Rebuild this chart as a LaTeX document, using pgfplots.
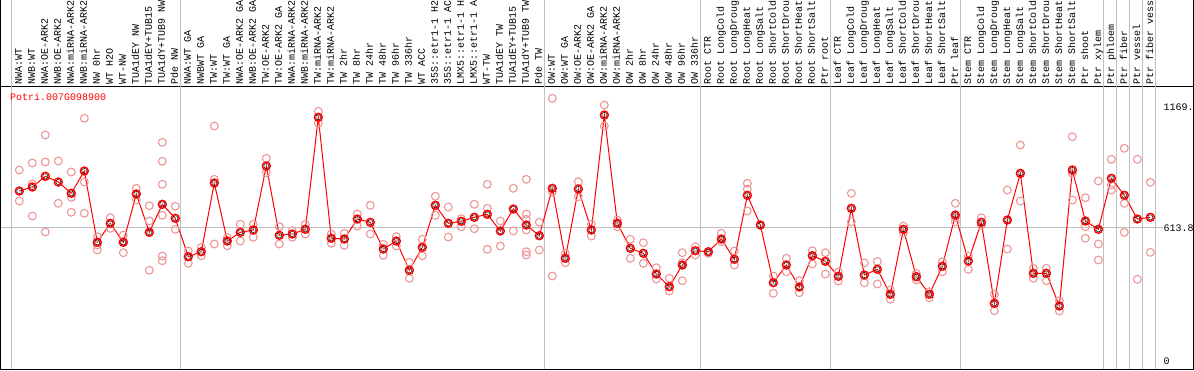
\documentclass[border=0pt]{standalone}
\usepackage{fontspec}
\setmainfont{Liberation Mono}
\usepackage{pgfplots}
\pgfplotsset{compat=1.18}
\definecolor{pinkc}{RGB}{236,150,150}
\definecolor{gridg}{RGB}{192,192,192}
\begin{document}
\fontsize{10pt}{12pt}\selectfont
\begin{tikzpicture}
\begin{axis}[name=ax, scale only axis, width=1192pt, height=283pt,
  xmin=-1.408, xmax=90.28, ymin=-34.4, ymax=1264.3,
  axis line style={black, line width=1pt},
  clip=false,
  ytick=\empty,
  xtick={0,...,87},
  xtick pos=upper, xticklabel pos=upper,
  major tick length=0pt,
  xticklabel style={rotate=90, anchor=mid west, inner sep=0pt, font=\fontsize{10pt}{12pt}\selectfont},
  xticklabel shift=1.5pt,
  xticklabels={NWA:WT,NWB:WT,NWA:OE-ARK2,NWB:OE-ARK2,NWA:miRNA-ARK2,NWB:miRNA-ARK2,NW 0hr,WT H2O,WT-NW,TUA1dEY NW,TUA1dEY+TUB15,TUA1dY+TUB9 NW,Pde NW,
  NWA:WT GA,NWBWT GA,TW:WT,TW:WT GA,NWA:OE-ARK2 GA,NWB:OE-ARK2 GA,TW:OE-ARK2,TW:OE-ARK2 GA,NWA:miRNA-ARK2,NWB:miRNA-ARK2,TW:miRNA-ARK2,TW:miRNA-ARK2,TW 2hr,TW 8hr,TW 24hr,TW 48hr,TW 96hr,TW 336hr,WT ACC,35S::etr1-1 H2,35S::etr1-1 AC,LMX5::etr1-1 H,LMX5::etr1-1 A,WT-TW,TUA1dEY TW,TUA1dEY+TUB15,TUA1dY+TUB9 TW,Pde TW,
  OW:WT,OW:WT GA,OW:OE-ARK2,OW:OE-ARK2 GA,OW:miRNA-ARK2,OW:miRNA-ARK2,OW 2hr,OW 8hr,OW 24hr,OW 48hr,OW 96hr,OW 336hr,
  Root CTR,Root LongCold,Root LongDroug,Root LongHeat,Root LongSalt,Root ShortCold,Root ShortDrou,Root ShortHeat,Root ShortSalt,Ptr root,
  Leaf CTR,Leaf LongCold,Leaf LongDroug,Leaf LongHeat,Leaf LongSalt,Leaf ShortCold,Leaf ShortDrou,Leaf ShortHeat,Leaf ShortSalt,Ptr leaf,
  Stem CTR,Stem LongCold,Stem LongDroug,Stem LongHeat,Stem LongSalt,Stem ShortCold,Stem ShortDrou,Stem ShortHeat,Stem ShortSalt,Ptr shoot,Ptr xylem,
  Ptr phloem,Ptr fiber,Ptr vessel,Ptr fiber vess},
]
% separators
\foreach \s in {-0.615,12.385,40.385,52.385,62.385,72.385,83.385,84.385,85.385,86.385,87.385}{
  \edef\tmp{\noexpand\draw[gridg, line width=0.9pt] (axis cs:\s,-34.4) -- (axis cs:\s,1659);}\tmp
}
\draw[gridg, line width=0.9pt] (axis cs:-1.408,613.8) -- (axis cs:88,613.8);
\draw[black, line width=1pt] (axis cs:-1.408,-34.4) -- (axis cs:-1.408,1659);
\draw[black, line width=1pt] (axis cs:90.28,-34.4) -- (axis cs:90.28,1659);

% replicates
\addplot[only marks, mark=o, mark size=3.9pt, pinkc, line width=1.1pt] coordinates {
(0,878.8)(0,736.5)
(1,910.9)(1,814.5)(1,667.7)
(2,1039.4)(2,915.5)(2,594.3)
(3,920.1)(3,726.0)
(4,869.6)(4,753.5)(4,684.7)
(5,1116.0)(5,823.7)(5,680.1)
(6,572.7)(6,534.6)(6,511.7)
(7,659.9)(7,611.3)
(8,580.5)(8,549.8)(8,499.3)
(9,794.8)(9,741.1)
(10,715.0)(10,644.8)(10,418.5)
(11,1005.9)(11,918.7)(11,813.2)(11,670.9)(11,484.1)(11,462.6)
(12,712.2)(12,606.7)
(13,507.1)(13,450.6)
(14,524.1)(14,485.5)
(15,1080.7)(15,836.1)(15,539.2)
(16,568.1)(16,531.4)
(17,629.6)(17,553.0)
(18,629.6)(18,570.0)
(19,932.5)(19,866.4)
(20,618.6)(20,539.2)
(21,600.2)(21,570.0)
(22,629.6)(22,585.1)
(23,1148.2)(23,1093.1)
(24,585.1)(24,542.4)
(25,588.3)(25,533.2)
(26,676.9)(26,621.8)
(27,716.8)(27,585.1)
(28,537.8)(28,487.3)
(29,572.7)(29,530.0)
(30,455.2)(30,381.8)
(31,560.8)(31,485.5)
(32,758.1)(32,670.9)
(33,709.0)(33,571.3)
(34,655.3)(34,618.6)
(35,721.4)(35,609.4)
(36,813.2)(36,703.0)(36,514.9)
(37,644.8)(37,530.0)
(38,794.8)(38,598.9)
(39,836.1)(39,676.9)(39,652.6)(39,603.5)(39,503.9)(39,488.7)
(40,638.8)(40,511.7)
(41,1207.8)(41,779.2)(41,392.4)
(42,496.5)(42,453.4)
(43,825.1)(43,756.3)
(44,631.0)(44,575.9)
(45,1177.1)(45,1080.7)
(46,649.3)(46,618.6)
(47,560.8)(47,473.6)
(48,545.2)(48,450.6)
(49,430.4)(49,378.6)
(50,381.8)(50,323.5)
(51,499.3)(51,453.4)(51,370.8)
(52,526.8)(52,488.7)
(53,496.5)
(54,588.3)(54,549.8)
(55,507.1)(55,442.8)
(56,817.8)(56,791.6)(56,690.6)
(58,392.4)(58,313.0)
(59,473.6)(59,412.1)
(60,370.8)(60,315.7)
(61,508.5)(61,447.4)
(62,499.3)(62,401.5)
(63,410.7)(63,369.4)
(64,771.9)(64,641.5)
(65,452.0)(65,361.6)
(66,458.9)(66,355.6)
(67,328.1)(67,285.4)
(68,621.8)(68,589.7)
(69,404.7)(69,374.0)
(70,320.3)(70,292.8)
(71,458.0)(71,412.1)
(72,726.0)(72,659.9)(72,641.5)
(73,484.1)(73,423.1)
(74,659.9)(74,626.4)
(75,308.4)(75,233.1)
(76,787.0)(76,516.3)
(77,993.5)(77,736.5)
(78,427.7)(78,381.8)
(79,427.7)(79,370.8)
(80,279.0)(80,231.7)
(81,1031.6)(81,863.6)(81,741.1)
(82,751.7)(82,618.6)(82,565.4)
(83,828.3)(83,539.2)(83,465.8)
(84,927.9)(84,810.0)(84,787.0)
(85,978.4)(85,726.0)(85,592.9)
(86,927.9)(86,377.2)
(87,822.3)(87,501.1)
};

% mean line
\addplot[red, line width=1pt, mark=none] coordinates {
(0,782.4)(1,800.8)(2,849.9)(3,823.7)(4,771.9)(5,874.2)(6,547.0)(7,634.2)(8,547.0)(9,768.7)
(10,592.9)(11,721.4)(12,657.1)(13,480.9)(14,503.9)(15,819.1)(16,553.0)(17,592.9)(18,603.5)(19,897.1)
(20,579.1)(21,585.1)(22,606.7)(23,1120.6)(24,565.4)(25,562.2)(26,653.9)(27,638.8)(28,516.3)(29,553.0)
(30,418.5)(31,524.1)(32,716.8)(33,634.2)(34,643.4)(35,661.7)(36,675.5)(37,598.9)(38,699.8)(39,626.4)
(40,577.3)(41,794.8)(42,473.6)(43,791.6)(44,603.5)(45,1131.2)(46,634.2)(47,519.5)(48,496.5)(49,401.5)
(50,343.3)(51,442.8)(52,508.5)(53,503.9)(54,562.2)(55,469.0)(56,762.7)(57,626.4)(58,361.6)(59,442.8)
(60,341.9)(61,485.5)(62,459.8)(63,391.0)(64,703.0)(65,397.0)(66,423.1)(67,308.4)(68,606.7)(69,389.1)
(70,308.4)(71,436.9)(72,672.3)(73,461.2)(74,638.8)(75,267.1)(76,649.3)(77,863.6)(78,404.7)(79,404.7)
(80,254.7)(81,878.8)(82,644.8)(83,606.7)(84,840.7)(85,762.7)(86,653.9)(87,661.7)
};
\addplot[only marks, mark=o, mark size=4.0pt, red, line width=1.4pt] coordinates {
(0,782.4)(1,800.8)(2,849.9)(3,823.7)(4,771.9)(5,874.2)(6,547.0)(7,634.2)(8,547.0)(9,768.7)
(10,592.9)(11,721.4)(12,657.1)(13,480.9)(14,503.9)(15,819.1)(16,553.0)(17,592.9)(18,603.5)(19,897.1)
(20,579.1)(21,585.1)(22,606.7)(23,1120.6)(24,565.4)(25,562.2)(26,653.9)(27,638.8)(28,516.3)(29,553.0)
(30,418.5)(31,524.1)(32,716.8)(33,634.2)(34,643.4)(35,661.7)(36,675.5)(37,598.9)(38,699.8)(39,626.4)
(40,577.3)(41,794.8)(42,473.6)(43,791.6)(44,603.5)(45,1131.2)(46,634.2)(47,519.5)(48,496.5)(49,401.5)
(50,343.3)(51,442.8)(52,508.5)(53,503.9)(54,562.2)(55,469.0)(56,762.7)(57,626.4)(58,361.6)(59,442.8)
(60,341.9)(61,485.5)(62,459.8)(63,391.0)(64,703.0)(65,397.0)(66,423.1)(67,308.4)(68,606.7)(69,389.1)
(70,308.4)(71,436.9)(72,672.3)(73,461.2)(74,638.8)(75,267.1)(76,649.3)(77,863.6)(78,404.7)(79,404.7)
(80,254.7)(81,878.8)(82,644.8)(83,606.7)(84,840.7)(85,762.7)(86,653.9)(87,661.7)
};
\addplot[only marks, mark=o, mark size=2.6pt, black, line width=0.45pt] coordinates {
(0,782.4)(1,800.8)(2,849.9)(3,823.7)(4,771.9)(5,874.2)(6,547.0)(7,634.2)(8,547.0)(9,768.7)
(10,592.9)(11,721.4)(12,657.1)(13,480.9)(14,503.9)(15,819.1)(16,553.0)(17,592.9)(18,603.5)(19,897.1)
(20,579.1)(21,585.1)(22,606.7)(23,1120.6)(24,565.4)(25,562.2)(26,653.9)(27,638.8)(28,516.3)(29,553.0)
(30,418.5)(31,524.1)(32,716.8)(33,634.2)(34,643.4)(35,661.7)(36,675.5)(37,598.9)(38,699.8)(39,626.4)
(40,577.3)(41,794.8)(42,473.6)(43,791.6)(44,603.5)(45,1131.2)(46,634.2)(47,519.5)(48,496.5)(49,401.5)
(50,343.3)(51,442.8)(52,508.5)(53,503.9)(54,562.2)(55,469.0)(56,762.7)(57,626.4)(58,361.6)(59,442.8)
(60,341.9)(61,485.5)(62,459.8)(63,391.0)(64,703.0)(65,397.0)(66,423.1)(67,308.4)(68,606.7)(69,389.1)
(70,308.4)(71,436.9)(72,672.3)(73,461.2)(74,638.8)(75,267.1)(76,649.3)(77,863.6)(78,404.7)(79,404.7)
(80,254.7)(81,878.8)(82,644.8)(83,606.7)(84,840.7)(85,762.7)(86,653.9)(87,661.7)
};

\node[anchor=west, inner sep=0pt, text=red] at (axis cs:-0.715,1214) {Potri.007G098900};
\node[anchor=west, inner sep=0pt] at (axis cs:88.0,1169) {1169.};
\node[anchor=west, inner sep=0pt] at (axis cs:88.0,613.8) {613.8};
\node[anchor=west, inner sep=0pt] at (axis cs:88.0,0) {0};
\end{axis}
\pgfresetboundingbox
\path[use as bounding box] ([shift={(-1pt,-1pt)}]ax.south west) rectangle ([shift={(1pt,86pt)}]ax.north east);
\end{tikzpicture}
\end{document}
